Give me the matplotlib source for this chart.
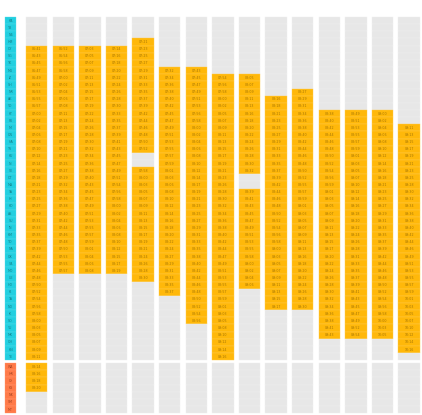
import matplotlib
matplotlib.use("Agg")
import matplotlib.pyplot as plt
import numpy as np

# station codes, upper (cyan) block and lower (red) block
stations_up = ["KA", "TB", "NS", "HM", "OY", "SG", "TK", "MU", "IZ", "SH",
               "NR", "AK", "YO", "KT", "FU", "MI", "ON", "HA", "TS", "KU",
               "NI", "SE", "OT", "MA", "YA", "HI", "KO", "AS", "SU", "IN",
               "KM", "TO", "NA", "OK", "SA", "MO", "UE", "HO", "KI", "TA",
               "NO", "IK", "SO", "YU", "MK", "OH", "KN", "TE"]
stations_down = ["WA", "HR", "OI", "KS", "NK", "SM", "MT"]

# per train: departure time (min after midnight), first and last served row
# of the upper block, rows skipped, rows served in the lower block
train_dep = [401, 412, 423, 434, 441, 452, 463, 474, 485, 496, 507, 518, 529, 540, 551]
train_first = [4, 4, 4, 4, 3, 7, 7, 8, 8, 11, 10, 13, 13, 13, 15]
train_last = [47, 35, 35, 35, 36, 38, 42, 47, 37, 40, 40, 44, 44, 44, 46]
train_skip = [[], [], [], [], [19, 20], [], [], [], [22, 23], [], [], [], [], [], []]
train_down = [4, 0, 0, 0, 0, 0, 0, 0, 0, 0, 0, 0, 0, 0, 0]

# cumulative running time (min) to each upper-block row, then lower block
run_up = [0, 2, 4, 6, 8, 10, 12, 14, 16, 18, 20, 22, 24, 27, 29, 31,
          33, 35, 37, 39, 41, 43, 45, 48, 50, 52, 54, 56, 58, 60, 62, 64,
          66, 69, 71, 73, 75, 77, 79, 81, 83, 85, 87, 90, 92, 94, 96, 98]
run_down = [101, 103, 105, 107, 109, 111, 113]

ORANGE = "#FFB80A"
ORANGE_LINE = "#FFCB4A"
GREY = "#E7E7E7"
GREY_LINE = "#F0F0F0"
CYAN = "#22CFE0"
RED = "#FF7A48"

GAP = 0.4
n_up = len(stations_up)

fig = plt.figure(figsize=(4.22, 4.15), dpi=100)
ax = fig.add_axes([0, 0, 1, 1])
ax.set_xlim(-1.38, 14.485)
ax.set_ylim(55.66, -2.378)
ax.axis("off")

rows_up = np.arange(n_up)
rows_down = n_up + GAP + np.arange(len(stations_down))


def hhmm(m):
    return "%02d:%02d" % ((m // 60) % 24, m % 60)


# station column
lx = -0.985
for r, name in zip(rows_up, stations_up):
    ax.bar(lx, 1, bottom=r, width=0.41, color=CYAN, edgecolor="#5ADCE8", linewidth=0.25)
    ax.text(lx, r + 0.5, name, fontsize=2.3, color="#0b5f66", alpha=0.7,
            ha="center", va="center")
for r, name in zip(rows_down, stations_down):
    ax.bar(lx, 1, bottom=r, width=0.41, color=RED, edgecolor="#FF9A72", linewidth=0.25)
    ax.text(lx, r + 0.5, name, fontsize=2.3, color="#7a2a10", alpha=0.7,
            ha="center", va="center")

# train columns
for c in range(len(train_dep)):
    for i, r in enumerate(rows_up):
        served = train_first[c] <= i <= train_last[c] and i not in train_skip[c]
        if served:
            ax.bar(c, 1, bottom=r, width=0.8, color=ORANGE, edgecolor=ORANGE_LINE, linewidth=0.3)
            t = train_dep[c] + run_up[i] - run_up[train_first[c]]
            ax.text(c, r + 0.5, hhmm(t), fontsize=2.3, color="#6b4a00", alpha=0.6,
                    ha="center", va="center")
        else:
            ax.bar(c, 1, bottom=r, width=0.8, color=GREY, edgecolor=GREY_LINE, linewidth=0.3)
    for k, r in enumerate(rows_down):
        if k < train_down[c]:
            ax.bar(c, 1, bottom=r, width=0.8, color=ORANGE, edgecolor=ORANGE_LINE, linewidth=0.3)
            t = train_dep[c] + run_down[k] - run_up[train_first[c]]
            ax.text(c, r + 0.5, hhmm(t), fontsize=2.3, color="#6b4a00", alpha=0.6,
                    ha="center", va="center")
        else:
            ax.bar(c, 1, bottom=r, width=0.8, color=GREY, edgecolor=GREY_LINE, linewidth=0.3)

fig.savefig("out.png", dpi=100)
